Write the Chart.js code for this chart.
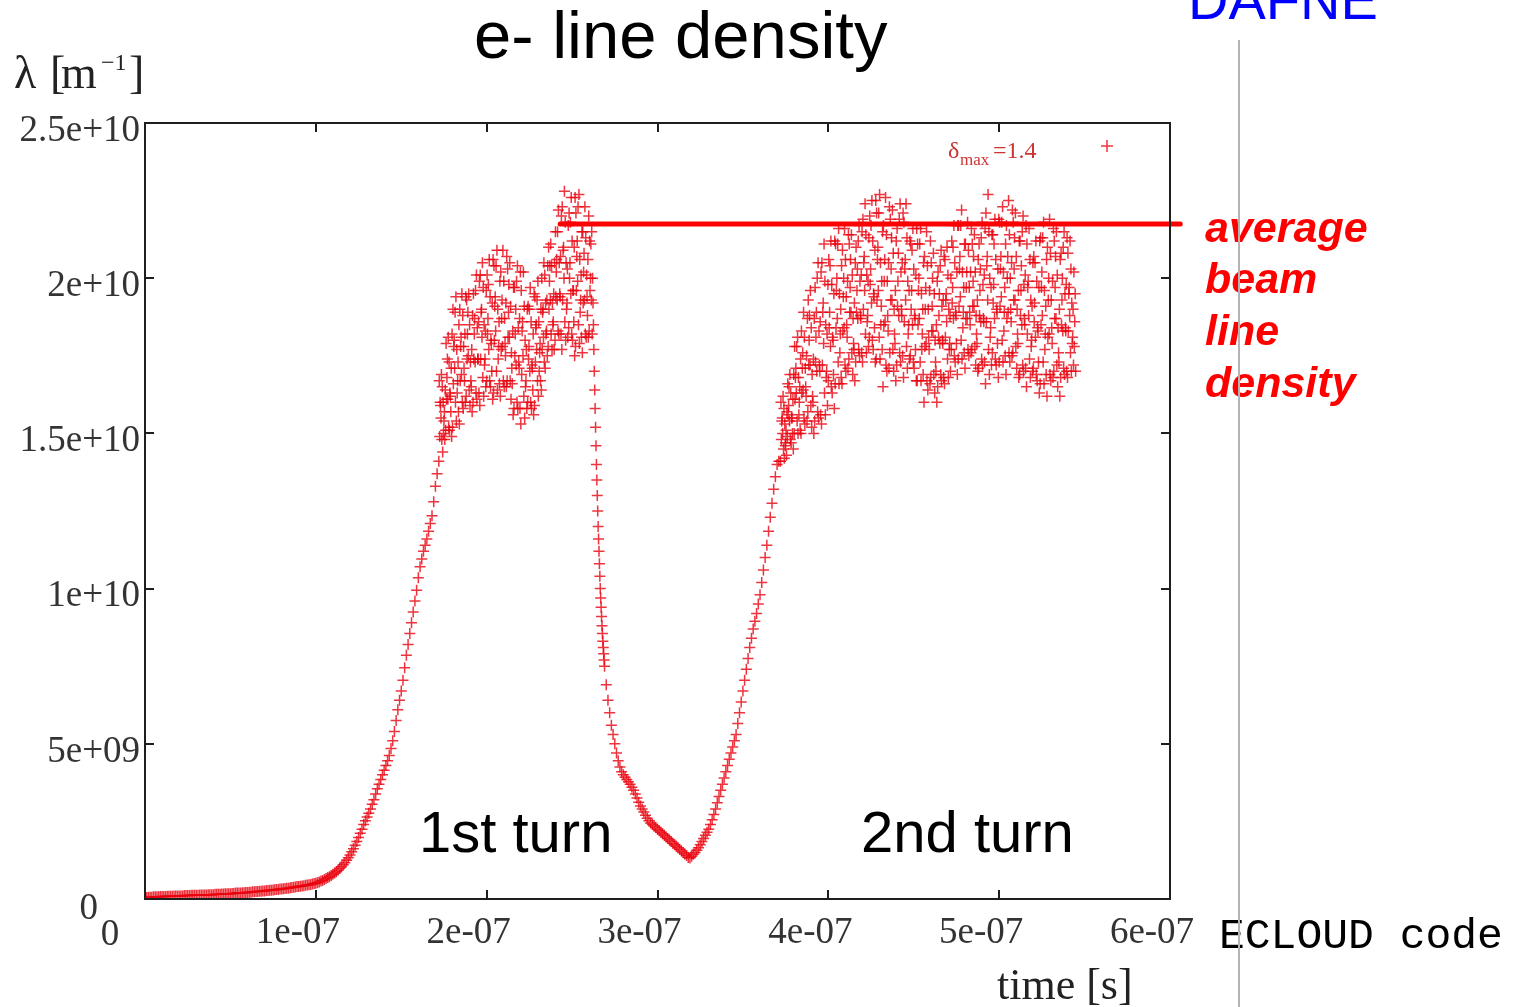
<!DOCTYPE html>
<html><head><meta charset="utf-8">
<script src="https://cdn.jsdelivr.net/npm/chart.js@4.4.1/dist/chart.umd.min.js"></script>
<style>html,body{margin:0;padding:0;background:#fff;overflow:hidden}canvas{display:block}</style>
</head><body>
<canvas id="c" width="1521" height="1007"></canvas>
<script>
// ---------- DATA ----------
// tick labels
const xTickLabels = ['0', '1e-07', '2e-07', '3e-07', '4e-07', '5e-07', '6e-07'];
const yTickLabels = ['0', '5e+09', '1e+10', '1.5e+10', '2e+10', '2.5e+10'];

// time sampling of the simulation output (ns)
const riseSlowStart = 0,   riseSlowStep = 1;    // 0..100 ns
const riseFastStart = 101, riseFastStep = 1;    // 101..171 ns
const turn1Start = 172,    turn1Step = 0.5;     // 172..261.5 ns
const turn1BStart = 172.25;                     // interleaved samples
const decayStart = 262,    decayStep = 0.25;    // 262..269 ns
const troughStart = 270,   troughStep = 1;      // 270..371 ns
const turn2Start = 372,    turn2Step = 0.5;     // 372..544.5 ns
const turn2BStart = 372.25;                     // interleaved samples

// line density values, units of 1e9 m^-1
const riseSlowV = [0.05,0.05,0.06,0.06,0.06,0.07,0.07,0.07,0.07,0.08,
  0.08,0.08,0.08,0.09,0.09,0.09,0.09,0.10,0.10,0.10,
  0.10,0.10,0.10,0.11,0.11,0.11,0.11,0.12,0.12,0.12,
  0.12,0.12,0.13,0.13,0.13,0.13,0.13,0.14,0.14,0.14,
  0.14,0.15,0.15,0.15,0.15,0.16,0.16,0.17,0.17,0.17,
  0.17,0.18,0.18,0.19,0.19,0.19,0.19,0.20,0.20,0.21,
  0.21,0.22,0.22,0.23,0.23,0.24,0.24,0.25,0.25,0.26,
  0.26,0.27,0.27,0.28,0.28,0.29,0.30,0.31,0.31,0.32,
  0.32,0.33,0.34,0.35,0.35,0.36,0.37,0.38,0.39,0.40,
  0.40,0.41,0.42,0.43,0.44,0.45,0.46,0.47,0.48,0.50,0.51];
const riseFastV = [0.53,0.55,0.58,0.60,0.63,0.66,0.69,0.72,0.76,0.80,
  0.84,0.88,0.93,0.98,1.04,1.10,1.17,1.25,1.33,1.42,
  1.52,1.62,1.73,1.85,1.98,2.12,2.25,2.4,2.52,2.64,
  2.76,2.9,3.05,3.2,3.38,3.55,3.7,3.85,4.0,4.15,
  4.3,4.45,4.62,4.85,5.1,5.4,5.75,6.1,6.4,6.7,
  7.05,7.45,7.85,8.2,8.55,8.9,9.25,9.6,9.95,10.35,
  10.7,10.95,11.2,11.4,11.6,11.85,12.1,12.35,12.8,13.3,13.7];
// first turn (units of 1e8 m^-1)
const turn1V = [141,149,159,169,165,160,154,148, 151,161,174,181,173,163,157,149,
  152,166,180,189,194,177,167,157, 153,167,181,195,188,178,167,160,
  162,174,189,195,185,173,165,157, 160,174,187,196,201,184,174,163,
  159,174,190,205,197,185,174,165, 167,182,198,206,194,180,170,161,
  163,180,194,204,209,190,178,166, 162,177,193,209,199,187,175,165,
  167,181,198,205,191,176,166,156, 158,175,190,199,204,184,171,158,
  153,169,186,202,191,180,167,158, 160,174,190,197,186,172,164,156,
  159,173,185,193,199,186,176,167, 164,177,190,205,201,192,183,175,
  178,190,204,211,204,192,186,177, 180,194,206,215,222,205,194,182,
  177,193,210,228,218,205,192,181, 184,200,218,226,212,196,186,175,
  178,196,212,223,227,206,193,181, 176,192,208,223,213,201,188,181,
  183,196,211,215];
const turn1BV = [167,160,155,148,144,150,157,164, 179,168,161,152,151,162,171,182,
  190,178,171,160,154,163,173,185, 190,178,169,160,158,171,182,194,
  193,182,175,164,159,167,177,188, 195,182,173,163,161,174,186,199,
  201,189,181,168,162,172,183,196, 201,187,177,167,165,179,192,206,
  204,191,183,170,164,174,186,199, 202,187,178,167,165,179,192,207,
  203,189,181,167,161,171,183,197, 197,182,172,160,158,173,187,202,
  196,183,175,162,155,165,177,190, 191,178,170,160,158,171,182,195,
  194,184,177,167,162,170,179,190, 200,189,181,173,171,182,193,204,
  210,199,193,182,177,185,195,205, 215,202,193,183,182,195,207,220,
  223,209,200,186,180,190,203,217, 221,205,195,182,180,196,210,226,
  221,207,199,185,179,189,201,215, 215,202,193,182,181,194,206,220,
  212,200,193,182];
const decayV = [20.0,19.2,18.5,17.7,17.0,16.4,15.8,15.2,14.6,14.0,
  13.5,13.0,12.5,12.0,11.6,11.2,10.8,10.4,10.0,9.7,
  9.4,9.1,8.8,8.55,8.3,8.1,7.9,7.7,7.5];
const troughV = [6.9,6.4,6.0,5.6,5.3,5.0,4.7,4.45,4.25,4.1,
  4.0,3.92,3.85,3.78,3.7,3.6,3.5,3.38,3.25,3.12,
  3.0,2.9,2.8,2.7,2.6,2.52,2.45,2.4,2.35,2.3,
  2.25,2.2,2.15,2.1,2.05,2.0,1.95,1.9,1.85,1.8,
  1.75,1.7,1.65,1.6,1.55,1.5,1.45,1.4,1.34,1.32,
  1.38,1.44,1.5,1.57,1.65,1.75,1.85,1.95,2.05,2.15,
  2.25,2.4,2.55,2.72,2.9,3.1,3.3,3.5,3.7,3.9,
  4.1,4.3,4.5,4.7,4.9,5.1,5.3,5.65,6.0,6.35,
  6.7,7.05,7.4,7.75,8.1,8.4,8.7,8.95,9.2,9.5,
  9.8,10.2,10.6,11.0,11.4,11.85,12.3,12.75,13.2,13.6,14.0,14.1];
// second turn (units of 1e8 m^-1)
const turn2V = [141,148,155,162,158,153,147,143, 149,156,165,169,163,155,150,145,
  150,161,171,178,181,168,160,151, 150,163,176,189,181,171,162,154,
  157,172,188,196,184,169,160,150, 154,173,189,200,205,183,170,156,
  153,172,192,211,199,185,170,159, 167,184,204,212,198,181,169,158,
  166,184,200,211,216,195,182,168, 166,183,200,216,206,194,181,171,
  174,189,206,214,201,187,177,167, 173,189,203,212,217,199,187,176,
  173,190,207,224,214,201,188,178, 181,198,217,225,212,195,184,173,
  174,193,210,221,227,205,191,177, 165,185,206,226,214,199,183,171,
  176,193,213,222,208,190,179,167, 172,191,208,219,224,202,188,175,
  168,186,206,224,213,199,185,174, 175,190,209,216,203,188,177,167,
  167,185,200,211,216,195,182,169, 160,178,197,215,204,190,177,166,
  168,183,200,208,195,180,170,160, 165,181,195,204,209,191,179,168,
  166,181,195,210,201,190,179,170, 177,192,210,217,205,189,179,169,
  174,191,207,217,222,202,189,176, 171,187,202,218,209,197,185,176,
  177,191,207,214,202,188,179,170, 171,188,203,213,218,198,186,173,
  166,186,207,227,215,200,184,172, 176,192,211,219,206,190,179,168,
  173,191,207,218,223,202,189,175, 169,187,207,225,214,200,186,175,
  176,193,213,221,207,190,179,168, 169,188,204,215,220,198,185,171,
  165,182,199,216,206,193,180,170, 171,186,205,212,199,184,173,163,
  166,185,202,213,218,196,182,169, 162,181,200,219,208,193,179,168,
  170,187,207,215,201,184,173,162, 168,185,200,210,215,195,183,170,
  168,183,197,212,203,192,181,172, 178,195];
const turn2BV = [160,154,150,145,142,146,151,157, 166,159,154,148,147,155,161,169,
  178,168,163,154,150,156,165,174, 183,171,164,155,153,165,175,187,
  193,180,172,159,152,162,174,187, 197,181,170,157,155,172,186,202,
  205,189,179,163,156,168,182,198, 206,189,178,165,163,180,195,212,
  211,196,187,173,166,176,190,204, 209,194,184,172,170,185,199,214,
  211,197,189,176,169,179,192,205, 210,196,187,177,175,188,201,215,
  219,205,196,182,176,186,199,213, 220,203,192,180,177,194,209,225,
  221,206,196,181,174,185,199,215, 217,199,186,172,170,188,205,223,
  219,203,193,177,170,182,196,212, 216,199,188,176,173,190,205,221,
  218,203,193,178,171,182,196,212, 211,196,185,173,171,187,201,216,
  211,196,187,173,167,177,190,205, 207,190,179,167,164,181,196,212,
  205,191,183,169,163,173,185,199, 202,188,179,169,167,180,193,207,
  206,193,186,174,168,177,188,200, 212,197,187,175,173,188,202,217,
  217,203,194,180,174,184,197,211, 211,197,187,177,175,189,202,216,
  211,199,191,178,172,182,193,206, 211,196,186,174,172,187,201,216,
  221,204,193,177,169,181,197,214, 214,198,187,174,172,189,203,219,
  218,203,194,180,173,183,197,211, 217,200,189,176,173,190,205,222,
  218,203,193,178,171,182,196,212, 212,196,185,172,170,187,201,217,
  211,197,188,174,168,178,191,205, 207,192,181,169,167,183,197,212,
  213,197,188,173,166,177,191,206, 210,193,182,169,167,184,199,216,
  212,197,187,172,165,176,190,206, 208,193,183,171,169,184,198,213,
  208,195,188,176,170,179,190,202, 186,170];
// average beam line density marker line
const avgLineT = [243, 606];          // ns
const avgLineV = [21.75, 21.75];      // 1e9 m^-1

// ---------- BUILD POINTS ----------
const NS = 1e-9;
function seg(t0, dt, vals, unit) {
  return vals.map((v, i) => ({ x: (t0 + i * dt) * NS, y: v * unit }));
}
const points = [].concat(
  seg(riseSlowStart, riseSlowStep, riseSlowV, 1e9),
  seg(riseFastStart, riseFastStep, riseFastV, 1e9),
  seg(turn1Start, turn1Step, turn1V, 1e8),
  seg(turn1BStart, turn1Step, turn1BV, 1e8),
  seg(decayStart, decayStep, decayV, 1e9),
  seg(troughStart, troughStep, troughV, 1e9),
  seg(turn2Start, turn2Step, turn2V, 1e8),
  seg(turn2BStart, turn2Step, turn2BV, 1e8)
);
const avgLine = avgLineT.map((t, i) => ({ x: t * NS, y: avgLineV[i] * 1e9 }));

const POINT_COLOR = 'rgba(232,0,12,0.8)';

// ---------- DECORATION PLUGIN ----------
const deco = {
  id: 'deco',
  afterDraw(chart) {
    const { ctx, chartArea: a, scales } = chart;
    const xs = scales.x, ys = scales.y;
    ctx.save();
    // frame
    ctx.strokeStyle = '#1e1e1e';
    ctx.lineWidth = 2;
    ctx.strokeRect(a.left, a.top, a.right - a.left, a.bottom - a.top);
    // inward ticks on all sides
    const L = 9;
    ctx.beginPath();
    xs.ticks.forEach(t => {
      const px = Math.round(xs.getPixelForValue(t.value));
      if (px <= a.left + 1 || px >= a.right - 1) return;
      ctx.moveTo(px, a.bottom); ctx.lineTo(px, a.bottom - L);
      ctx.moveTo(px, a.top); ctx.lineTo(px, a.top + L);
    });
    ys.ticks.forEach(t => {
      const py = Math.round(ys.getPixelForValue(t.value));
      if (py <= a.top + 1 || py >= a.bottom - 1) return;
      ctx.moveTo(a.left, py); ctx.lineTo(a.left + L, py);
      ctx.moveTo(a.right, py); ctx.lineTo(a.right - L, py);
    });
    ctx.stroke();

    // zero labels (gnuplot style positions)
    ctx.fillStyle = '#333';
    ctx.font = '37px "Liberation Serif"';
    ctx.textBaseline = 'alphabetic';
    ctx.textAlign = 'right';
    ctx.fillText(yTickLabels[0], a.left - 47, ys.getPixelForValue(0) + 20);
    ctx.textAlign = 'center';
    ctx.fillText(xTickLabels[0], xs.getPixelForValue(0) - 35, a.bottom + 46);

    // axis titles
    ctx.textAlign = 'left';
    ctx.fillStyle = '#222';
    ctx.font = '46px "Liberation Serif"';
    ctx.fillText('λ', 14, 88);
    ctx.fillText('[', 50, 88);
    ctx.fillText('m', 61, 88);
    ctx.font = '24px "Liberation Serif"';
    ctx.fillText('−1', 101, 70);
    ctx.font = '46px "Liberation Serif"';
    ctx.fillText(']', 129, 88);
    ctx.font = '44px "Liberation Serif"';
    ctx.fillText('time [s]', 997, 999);

    // legend
    ctx.fillStyle = '#cc3333';
    ctx.font = '24px "Liberation Serif"';
    ctx.fillText('δ', 948, 158);
    ctx.font = '17px "Liberation Serif"';
    ctx.fillText('max', 960, 165);
    ctx.font = '24px "Liberation Serif"';
    ctx.fillText('=1.4', 993, 158);
    ctx.strokeStyle = POINT_COLOR;
    ctx.lineWidth = 1.5;
    ctx.beginPath();
    ctx.moveTo(1101, 146); ctx.lineTo(1113, 146);
    ctx.moveTo(1107, 140); ctx.lineTo(1107, 152);
    ctx.stroke();

    // title
    ctx.fillStyle = '#000';
    ctx.font = '67px "Liberation Sans"';
    ctx.fillText('e- line density', 474, 58);

    // turn labels
    ctx.font = '58px "Liberation Sans"';
    ctx.fillText('1st turn', 419, 852);
    ctx.fillText('2nd turn', 861, 852);

    // side annotation
    ctx.fillStyle = '#ff0000';
    ctx.font = 'italic bold 43px "Liberation Sans"';
    ctx.fillText('average', 1205, 242);
    ctx.fillText('beam', 1205, 293);
    ctx.fillText('line', 1205, 345);
    ctx.fillText('density', 1205, 397);

    // code label
    ctx.fillStyle = '#000';
    ctx.font = '43px "Liberation Mono"';
    ctx.fillText('ECLOUD code', 1219, 948);

    // DAFNE header (cut at top)
    ctx.fillStyle = '#0000ff';
    ctx.font = '56px "Liberation Sans"';
    ctx.fillText('DAFNE', 1188, 19);

    // slide separator line
    ctx.strokeStyle = '#b4b4b4';
    ctx.lineWidth = 2;
    ctx.beginPath();
    ctx.moveTo(1239, 40); ctx.lineTo(1239, 1007);
    ctx.stroke();
    ctx.restore();
  }
};

// ---------- CHART ----------
new Chart(document.getElementById('c'), {
  type: 'scatter',
  data: {
    datasets: [
      {
        type: 'line',
        data: avgLine,
        borderColor: '#ff0000',
        borderWidth: 5,
        borderCapStyle: 'round',
        pointRadius: 0,
        clip: false,
        fill: false
      },
      {
        data: points,
        pointStyle: 'cross',
        pointRadius: 5.5,
        borderWidth: 1.5,
        borderColor: POINT_COLOR,
        backgroundColor: POINT_COLOR,
        showLine: false
      }
    ]
  },
  options: {
    responsive: false,
    animation: false,
    events: [],
    layout: { padding: { left: 0, top: 123, right: 351, bottom: 0 } },
    plugins: { legend: { display: false }, tooltip: { enabled: false }, title: { display: false } },
    scales: {
      x: {
        type: 'linear', min: 0, max: 6e-7,
        afterFit(s) { s.height = 108; },
        grid: { display: false, drawTicks: false },
        border: { display: false },
        ticks: {
          stepSize: 1e-7, padding: 12, labelOffset: -18, autoSkip: false, maxRotation: 0,
          color: '#333', font: { family: 'Liberation Serif', size: 37 },
          callback: (v, i) => (i === 0 ? '' : xTickLabels[i])
        }
      },
      y: {
        type: 'linear', min: 0, max: 2.5e10,
        afterFit(s) { s.width = 145; },
        grid: { display: false, drawTicks: false },
        border: { display: false },
        ticks: {
          stepSize: 5e9, padding: 5, labelOffset: 8, autoSkip: false,
          color: '#333', font: { family: 'Liberation Serif', size: 37 },
          callback: (v, i) => (i === 0 ? '' : yTickLabels[i])
        }
      }
    }
  },
  plugins: [deco]
});
</script>
</body></html>
